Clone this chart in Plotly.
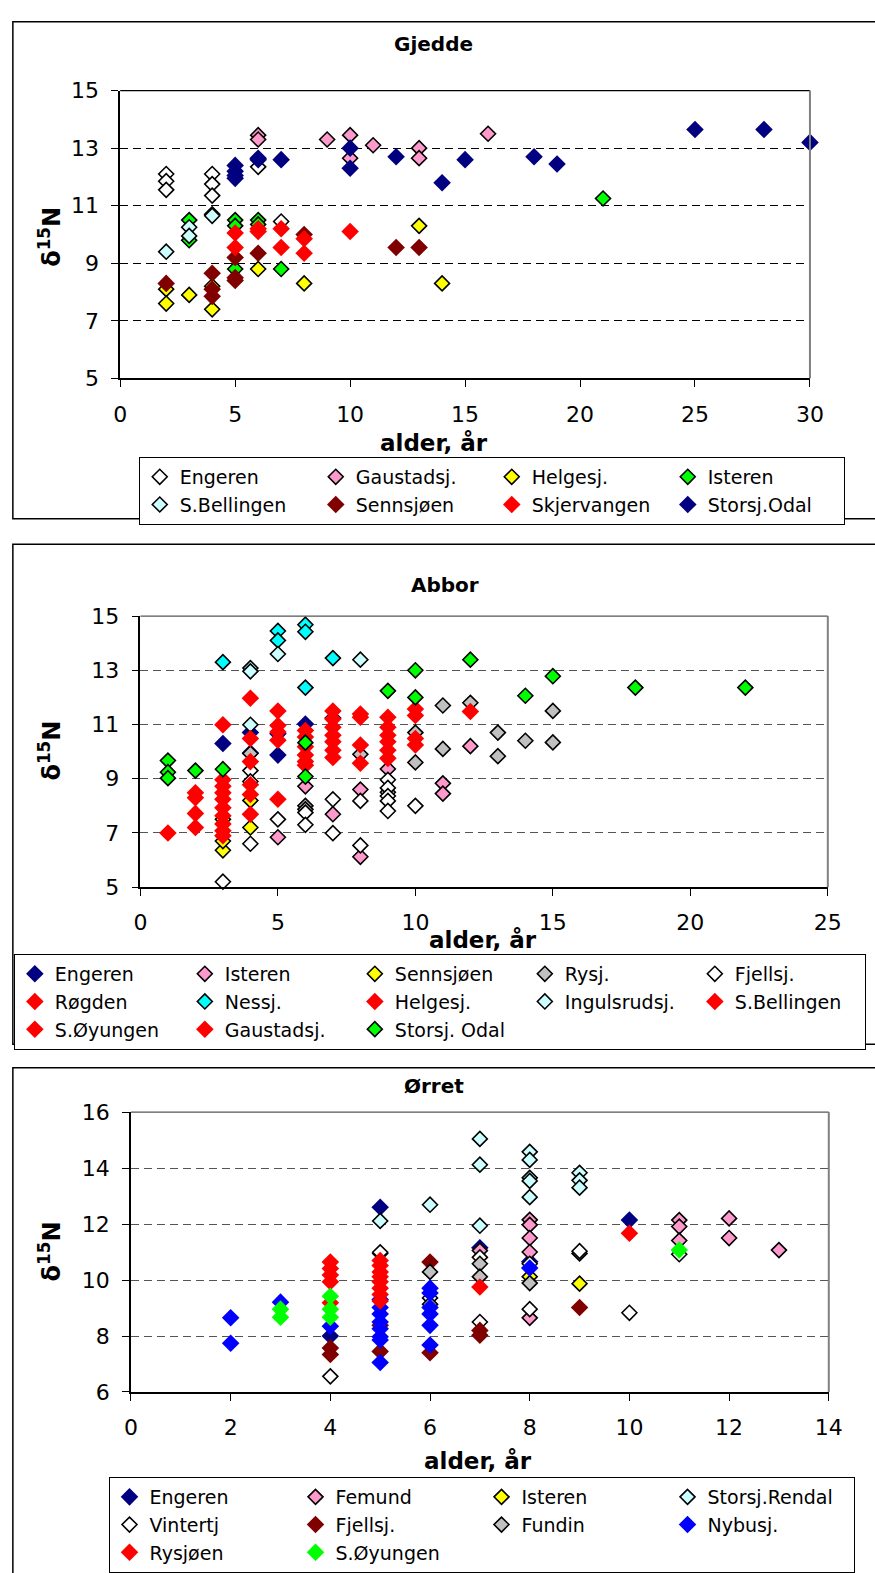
import plotly.graph_objects as go

W, H = 875, 1573
FONT = "DejaVu Sans, Verdana, sans-serif"

def px(x):
    return x / W

def py(y):
    return 1 - y / H

# ---------------- Panel 1: Gjedde ----------------
g_names = ["Engeren", "Gaustadsj.", "Helgesj.", "Isteren", "S.Bellingen",
           "Sennsjøen", "Skjervangen", "Storsj.Odal"]
g_engeren_x = [2, 2, 2, 4, 4, 4, 4, 6, 7]
g_engeren_y = [12.1, 11.85, 11.55, 12.1, 11.75, 11.35, 10.7, 12.35, 10.45]
g_gaust_x = [6, 6, 9, 10, 10, 11, 13, 13, 16]
g_gaust_y = [13.45, 13.3, 13.3, 13.45, 12.65, 13.1, 13.0, 12.65, 13.5]
g_helge_x = [2, 2, 3, 4, 4, 6, 8, 13, 14]
g_helge_y = [8.1, 7.6, 7.9, 8.2, 7.4, 8.8, 8.3, 10.3, 8.3]
g_ister_x = [3, 3, 5, 5, 5, 6, 6, 7, 21]
g_ister_y = [10.5, 9.8, 10.5, 10.3, 8.8, 10.5, 10.35, 8.8, 11.25]
g_sbell_x = [2, 3, 3, 4]
g_sbell_y = [9.4, 10.25, 9.95, 10.65]
g_senn_x = [2, 4, 4, 4, 5, 5, 5, 6, 8, 12, 13]
g_senn_y = [8.3, 8.65, 8.1, 7.85, 9.2, 8.5, 8.4, 9.35, 10.0, 9.55, 9.55]
g_skjer_x = [5, 5, 6, 6, 7, 7, 8, 8, 10]
g_skjer_y = [10.05, 9.55, 10.2, 10.1, 10.2, 9.55, 9.85, 9.35, 10.1]
g_odal_x = [5, 5, 5, 5, 6, 6, 7, 10, 10, 12, 14, 15, 18, 19, 25, 28, 30]
g_odal_y = [12.4, 12.2, 12.05, 11.95, 12.65, 12.6, 12.6, 13.0, 12.3, 12.7,
            11.8, 12.6, 12.7, 12.45, 13.65, 13.65, 13.2]

# ---------------- Panel 2: Abbor ----------------
a_names = ["Engeren", "Isteren", "Sennsjøen", "Rysj.", "Fjellsj.", "Røgden",
           "Nessj.", "Helgesj.", "Ingulsrudsj.", "S.Bellingen", "S.Øyungen",
           "Gaustadsj.", "Storsj. Odal"]
a_engeren_x = [3, 4, 4, 5, 5, 6, 7]
a_engeren_y = [10.3, 10.7, 9.95, 10.66, 9.87, 11.02, 11.24]
a_ister_x = [5, 6, 7, 8, 8, 9, 11, 11, 12]
a_ister_y = [6.84, 8.72, 7.69, 8.6, 6.12, 9.36, 8.83, 8.45, 10.2]
a_senn_x = [3, 3, 3, 4, 4]
a_senn_y = [6.36, 6.7, 7.5, 8.2, 7.2]
a_rysj_x = [4, 6, 6, 8, 9, 10, 10, 11, 11, 12, 13, 13, 14, 15, 15]
a_rysj_y = [9.93, 8.0, 7.87, 9.9, 8.5, 10.7, 9.6, 11.7, 10.1, 11.8, 10.7,
            9.83, 10.4, 11.5, 10.34]
a_fjell_x = [3, 4, 4, 4, 5, 6, 6, 7, 7, 8, 8, 9, 9, 9, 9, 9, 10]
a_fjell_y = [5.2, 9.3, 8.9, 6.6, 7.5, 7.75, 7.3, 8.24, 6.99, 8.18, 6.54,
             8.96, 8.66, 8.36, 8.18, 7.81, 8.0]
a_rogden_x = [1, 2, 2, 2, 2, 3, 3, 3, 3]
a_rogden_y = [7.0, 8.48, 8.3, 7.72, 7.2, 8.96, 8.48, 7.93, 7.33]
a_ness_x = [3, 5, 5, 6, 6, 6, 7]
a_ness_y = [13.3, 14.45, 14.1, 14.68, 14.42, 12.36, 13.45]
a_helge_x = [3, 3, 3, 3, 3, 4, 4, 4]
a_helge_y = [8.72, 8.24, 7.63, 7.08, 6.9, 8.78, 8.42, 7.69]
a_ingul_x = [4, 4, 4, 5, 8]
a_ingul_y = [13.08, 12.96, 10.99, 13.6, 13.39]
a_sbell_x = [3, 4, 4, 4, 5, 5, 5, 5, 5]
a_sbell_y = [10.99, 11.97, 10.48, 9.63, 11.5, 10.96, 10.72, 10.42, 8.24]
a_soy_x = [6, 6, 6, 6, 6, 6, 7, 7, 7, 7, 7, 7, 7]
a_soy_y = [10.78, 10.54, 10.18, 9.87, 9.63, 9.5, 11.5, 11.2, 10.9, 10.6,
           10.36, 10.05, 9.78]
a_gaust_x = [8, 8, 8, 8, 9, 9, 9, 9, 9, 9, 10, 10, 10, 10, 12]
a_gaust_y = [11.39, 11.27, 10.24, 9.57, 11.27, 10.9, 10.6, 10.36, 10.05, 9.75,
             11.57, 11.33, 10.48, 10.24, 11.48]
a_odal_x = [1, 1, 1, 2, 3, 6, 6, 9, 10, 10, 12, 14, 15, 18, 22]
a_odal_y = [9.67, 9.24, 9.02, 9.3, 9.35, 10.33, 9.08, 12.24, 13.0, 12.0,
            13.39, 12.06, 12.78, 12.36, 12.36]

# ---------------- Panel 3: Ørret ----------------
o_names = ["Engeren", "Femund", "Isteren", "Storsj.Rendal", "Vintertj",
           "Fjellsj.", "Fundin", "Nybusj.", "Rysjøen", "S.Øyungen"]
o_engeren_x = [4, 5, 7, 8, 10]
o_engeren_y = [8.0, 12.6, 11.15, 10.65, 12.14]
o_femund_x = [7, 8, 8, 8, 8, 8, 9, 11, 11, 11, 12, 12, 13]
o_femund_y = [11.05, 12.15, 11.97, 11.5, 11.0, 8.65, 10.95, 12.14, 11.91,
              11.41, 12.2, 11.5, 11.07]
o_ister_x = [8, 9]
o_ister_y = [10.12, 9.87]
o_rendal_x = [5, 5, 6, 7, 7, 7, 8, 8, 8, 8, 8, 9, 9, 9]
o_rendal_y = [12.11, 10.95, 12.69, 15.04, 14.12, 11.94, 14.58, 14.29, 13.65,
              13.54, 12.96, 13.83, 13.56, 13.3]
o_vinter_x = [4, 5, 6, 6, 7, 7, 8, 8, 9, 10, 11]
o_vinter_y = [6.56, 10.99, 9.36, 9.13, 10.81, 8.5, 10.58, 8.96, 11.03, 8.83,
              10.92]
o_fjell_x = [4, 4, 5, 5, 6, 6, 7, 7, 9]
o_fjell_y = [7.57, 7.34, 8.38, 7.45, 10.64, 7.4, 8.2, 8.03, 9.02]
o_fundin_x = [6, 7, 7, 8]
o_fundin_y = [10.29, 10.58, 10.12, 9.89]
o_nybu_x = [2, 2, 3, 4, 5, 5, 5, 5, 5, 5, 5, 5, 6, 6, 6, 6, 6, 6, 8]
o_nybu_y = [8.65, 7.74, 9.21, 8.35, 9.3, 9.02, 8.79, 8.5, 8.26, 7.97, 7.86,
            7.05, 9.71, 9.54, 9.02, 8.79, 8.38, 7.68, 10.43]
o_rysj_x = [4, 4, 4, 4, 4, 5, 5, 5, 5, 5, 5, 5, 5, 7, 10]
o_rysj_y = [10.64, 10.41, 10.18, 9.94, 9.19, 10.7, 10.52, 10.29, 10.12, 9.94,
            9.71, 9.48, 9.25, 9.75, 11.67]
o_soy_x = [3, 3, 4, 4, 4, 11]
o_soy_y = [8.96, 8.67, 9.42, 8.96, 8.67, 11.07]

WHITE, PINK, YELLOW, GREEN = "#FFFFFF", "#FF99CC", "#FFFF00", "#00FF00"
ICE, DRED, RED, NAVY = "#CCFFFF", "#800000", "#FF0000", "#000080"
CYAN, GRAY, BLUE = "#00FFFF", "#C0C0C0", "#0000FF"

panel1 = [
    (g_names[0], g_engeren_x, g_engeren_y, WHITE, True),
    (g_names[1], g_gaust_x, g_gaust_y, PINK, True),
    (g_names[2], g_helge_x, g_helge_y, YELLOW, True),
    (g_names[3], g_ister_x, g_ister_y, GREEN, True),
    (g_names[4], g_sbell_x, g_sbell_y, ICE, True),
    (g_names[5], g_senn_x, g_senn_y, DRED, False),
    (g_names[6], g_skjer_x, g_skjer_y, RED, False),
    (g_names[7], g_odal_x, g_odal_y, NAVY, False),
]
panel2 = [
    (a_names[0], a_engeren_x, a_engeren_y, NAVY, False),
    (a_names[1], a_ister_x, a_ister_y, PINK, True),
    (a_names[2], a_senn_x, a_senn_y, YELLOW, True),
    (a_names[3], a_rysj_x, a_rysj_y, GRAY, True),
    (a_names[4], a_fjell_x, a_fjell_y, WHITE, True),
    (a_names[5], a_rogden_x, a_rogden_y, RED, False),
    (a_names[6], a_ness_x, a_ness_y, CYAN, True),
    (a_names[7], a_helge_x, a_helge_y, RED, False),
    (a_names[8], a_ingul_x, a_ingul_y, ICE, True),
    (a_names[9], a_sbell_x, a_sbell_y, RED, False),
    (a_names[10], a_soy_x, a_soy_y, RED, False),
    (a_names[11], a_gaust_x, a_gaust_y, RED, False),
    (a_names[12], a_odal_x, a_odal_y, GREEN, True),
]
panel3 = [
    (o_names[0], o_engeren_x, o_engeren_y, NAVY, False),
    (o_names[1], o_femund_x, o_femund_y, PINK, True),
    (o_names[2], o_ister_x, o_ister_y, YELLOW, True),
    (o_names[3], o_rendal_x, o_rendal_y, ICE, True),
    (o_names[4], o_vinter_x, o_vinter_y, WHITE, True),
    (o_names[5], o_fjell_x, o_fjell_y, DRED, False),
    (o_names[6], o_fundin_x, o_fundin_y, GRAY, True),
    (o_names[7], o_nybu_x, o_nybu_y, BLUE, False),
    (o_names[8], o_rysj_x, o_rysj_y, RED, False),
    (o_names[9], o_soy_x, o_soy_y, GREEN, False),
]

fig = go.Figure()

def add_panel(series, xa, ya, legend):
    for name, xs, ys, color, outline in series:
        fig.add_trace(go.Scatter(
            x=xs, y=ys, name=name, mode="markers",
            xaxis=xa, yaxis=ya, legend=legend, cliponaxis=False,
            marker=dict(symbol="diamond", color=color,
                        size=11.5 if outline else 13.5,
                        line=dict(color="black", width=1.6 if outline else 0)),
        ))

add_panel(panel1, "x", "y", "legend")
add_panel(panel2, "x2", "y2", "legend2")
add_panel(panel3, "x3", "y3", "legend3")

tickfont = dict(family=FONT, size=22, color="black")

def xax(left, right, rng, dtick, anchor):
    return dict(domain=[px(left), px(right)], range=rng, dtick=dtick, tick0=0,
                anchor=anchor,
                showgrid=False, zeroline=False, showline=True,
                linecolor="black", linewidth=1.5, ticks="outside", ticklen=7,
                tickcolor="black", tickwidth=1, tickfont=tickfont,
                ticklabelstandoff=8, fixedrange=True)

def yax(top, bottom, rng, tick0, gridcolor, anchor):
    return dict(domain=[py(bottom), py(top)], range=rng, dtick=2, tick0=tick0,
                anchor=anchor,
                showgrid=True, gridcolor=gridcolor, griddash="8px,5px",
                gridwidth=1, zeroline=False, showline=True,
                linecolor="black", linewidth=1.5, ticks="outside", ticklen=7,
                tickcolor="black", tickwidth=1, tickfont=tickfont,
                ticklabelstandoff=8, fixedrange=True)

P1 = (116, 822.7, 80, 373)
P2 = (136.7, 841, 615, 891)
P3 = (127, 842, 1120, 1405)

legfont = dict(family=FONT, size=19, color="black")

def leg(left, top, ew):
    return dict(x=px(left), y=py(top), xanchor="left", yanchor="top",
                orientation="h", entrywidth=ew, entrywidthmode="pixels",
                bordercolor="black", borderwidth=1, bgcolor="white",
                font=legfont, itemwidth=30, traceorder="normal",
                itemclick=False, itemdoubleclick=False)

shapes = []
# outer frames (their right edges lie beyond the picture)
for (y0, y1) in [(10, 516), (542, 1051), (1075, 1600)]:
    shapes.append(dict(type="rect", xref="paper", yref="paper",
                       x0=px(6), x1=px(900), y0=py(y1), y1=py(y0),
                       line=dict(color="black", width=1.5), layer="below"))
# plot area top and right borders
for xa, ya, topc in [("x", "y", "black"), ("x2", "y2", "#555555"),
                     ("x3", "y3", "#555555")]:
    shapes.append(dict(type="line", xref=f"{xa} domain", yref=f"{ya} domain",
                       x0=0, x1=1, y0=1, y1=1,
                       line=dict(color=topc, width=1.2)))
    shapes.append(dict(type="line", xref=f"{xa} domain", yref=f"{ya} domain",
                       x0=1, x1=1, y0=0, y1=1,
                       line=dict(color="#808080", width=2)))

def ann(text, x, y, size, angle=0):
    return dict(text=text, x=px(x), y=py(y), xref="paper", yref="paper",
                xanchor="center", yanchor="middle", showarrow=False,
                textangle=angle, font=dict(family=FONT, size=size, color="black"))

annotations = [
    ann("<b>Gjedde</b>", 437, 33, 20),
    ann("<b>Abbor</b>", 449, 583, 20),
    ann("<b>Ørret</b>", 438, 1093, 20),
    ann("<b>alder, år</b>", 437, 439, 23),
    ann("<b>alder, år</b>", 488, 945, 23),
    ann("<b>alder, år</b>", 483, 1475, 23),
    ann("<b>δ<sup>15</sup>N</b>", 44, 229, 24, -90),
    ann("<b>δ<sup>15</sup>N</b>", 44, 752, 24, -90),
    ann("<b>δ<sup>15</sup>N</b>", 44, 1262, 24, -90),
]

fig.update_layout(
    width=W, height=H,
    margin=dict(l=0, r=0, t=0, b=0),
    paper_bgcolor="white", plot_bgcolor="white",
    font=dict(family=FONT, color="black"),
    xaxis=xax(P1[0], P1[1], [0, 30], 5, "y"),
    yaxis=yax(P1[2], P1[3], [5, 15], 5, "black", "x"),
    xaxis2=xax(P2[0], P2[1], [0, 25], 5, "y2"),
    yaxis2=yax(P2[2], P2[3], [5, 15], 5, "#555555", "x2"),
    xaxis3=xax(P3[0], P3[1], [0, 14], 2, "y3"),
    yaxis3=yax(P3[2], P3[3], [6, 16], 6, "#555555", "x3"),
    legend=leg(135, 453, 131),
    legend2=leg(7, 959, 125),
    legend3=leg(104, 1492, 141),
    shapes=shapes,
    annotations=annotations,
    showlegend=True,
)

post = (
    "document.documentElement.style.margin='0px';"
    "document.documentElement.style.overflow='hidden';"
    "document.body.style.margin='0px';"
    "document.body.style.padding='0px';"
    "document.body.style.overflow='hidden';"
    "var gd=document.getElementById('{plot_id}');"
    "gd.style.overflow='hidden';"
    "var sc=gd.querySelectorAll('.svg-container, .main-svg');"
    "for(var i=0;i<sc.length;i++){sc[i].style.overflow='hidden';}"
)

fig.write_html("out.html", config={"displayModeBar": False}, post_script=post)
